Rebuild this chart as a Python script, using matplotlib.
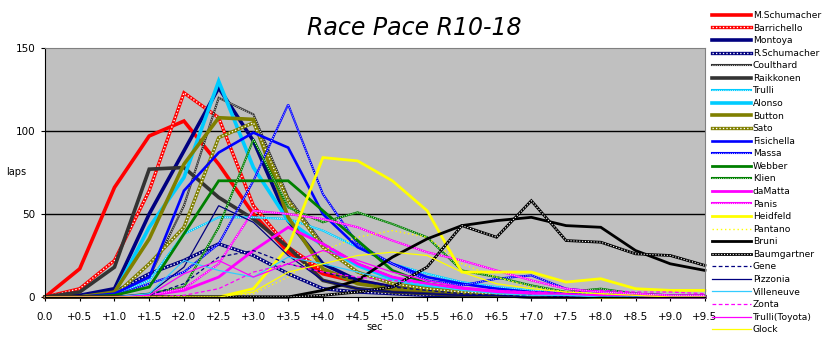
import numpy as np
import matplotlib.pyplot as plt

# lap-time deltas to the fastest lap, in 0.5 s bins
cats = ['0.0'] + ['+%.1f' % (0.5 * i) for i in range(1, 20)]

m_schumacher = [0, 17, 66, 97, 106, 80, 50, 27, 14, 9, 5, 3, 2, 1, 1, 0, 0, 0, 0, 0]
barrichello = [0, 5, 22, 64, 123, 108, 55, 30, 16, 10, 6, 4, 3, 2, 1, 1, 0, 0, 0, 0]
montoya = [0, 1, 5, 50, 88, 126, 94, 46, 20, 10, 6, 4, 3, 2, 1, 1, 0, 0, 0, 0]
r_schumacher = [0, 0, 3, 14, 22, 32, 25, 14, 5, 3, 2, 1, 1, 1, 0, 0, 0, 0, 0, 0]
coulthard = [0, 0, 2, 12, 55, 120, 110, 60, 32, 20, 12, 7, 4, 2, 1, 1, 0, 0, 0, 0]
raikkonen = [0, 3, 18, 77, 78, 60, 47, 30, 10, 5, 3, 2, 1, 1, 0, 0, 0, 0, 0, 0]
trulli = [0, 0, 1, 10, 38, 48, 48, 47, 40, 30, 20, 14, 9, 6, 4, 3, 2, 1, 1, 0]
alonso = [0, 0, 2, 42, 72, 130, 78, 46, 31, 19, 11, 6, 4, 2, 1, 1, 0, 0, 0, 0]
button = [0, 0, 3, 35, 80, 108, 107, 48, 17, 8, 5, 4, 3, 2, 1, 1, 0, 0, 0, 0]
sato = [0, 0, 1, 20, 42, 96, 105, 58, 30, 15, 8, 5, 3, 2, 1, 1, 0, 0, 0, 0]
fisichella = [0, 0, 2, 12, 64, 87, 99, 90, 50, 30, 20, 12, 8, 5, 3, 2, 1, 0, 0, 0]
massa = [0, 0, 1, 8, 15, 32, 70, 116, 62, 32, 20, 10, 7, 11, 13, 5, 3, 2, 1, 1]
webber = [0, 0, 1, 6, 38, 70, 70, 70, 52, 34, 16, 8, 5, 3, 2, 1, 1, 0, 0, 0]
klien = [0, 0, 0, 2, 6, 42, 95, 54, 45, 51, 44, 36, 16, 12, 7, 3, 5, 2, 1, 1]
damatta = [0, 0, 0, 1, 4, 12, 28, 42, 32, 20, 12, 8, 5, 3, 2, 1, 1, 0, 0, 0]
panis = [0, 0, 0, 1, 5, 20, 52, 50, 47, 42, 34, 27, 22, 16, 10, 5, 3, 2, 1, 1]
heidfeld = [0, 0, 0, 0, 0, 0, 5, 30, 84, 82, 70, 52, 15, 15, 15, 9, 11, 5, 4, 4]
pantano = [0, 0, 0, 0, 0, 0, 2, 12, 28, 36, 40, 36, 20, 12, 6, 3, 2, 1, 0, 0]
bruni = [0, 0, 0, 0, 0, 0, 0, 0, 4, 10, 24, 35, 43, 46, 48, 43, 42, 28, 20, 16]
baumgartner = [0, 0, 0, 0, 0, 0, 0, 0, 1, 3, 6, 18, 43, 36, 58, 34, 33, 26, 25, 19]
gene = [0, 0, 0, 1, 8, 24, 28, 20, 15, 10, 6, 4, 2, 1, 1, 0, 0, 0, 0, 0]
pizzonia = [0, 0, 0, 2, 18, 55, 45, 25, 10, 5, 3, 2, 1, 1, 0, 0, 0, 0, 0, 0]
villeneuve = [0, 0, 0, 2, 22, 16, 12, 24, 20, 15, 10, 7, 4, 2, 1, 1, 0, 0, 0, 0]
zonta = [0, 0, 0, 0, 1, 5, 15, 20, 15, 12, 10, 8, 5, 4, 3, 3, 4, 3, 3, 2]
trulli_toyota = [0, 0, 0, 1, 14, 22, 12, 20, 28, 22, 15, 10, 6, 4, 3, 2, 1, 1, 0, 0]
glock = [0, 0, 0, 0, 0, 0, 3, 15, 20, 25, 27, 25, 15, 8, 5, 3, 2, 1, 0, 0]

drivers = ['M.Schumacher', 'Barrichello', 'Montoya', 'R.Schumacher', 'Coulthard',
           'Raikkonen', 'Trulli', 'Alonso', 'Button', 'Sato', 'Fisichella', 'Massa',
           'Webber', 'Klien', 'daMatta', 'Panis', 'Heidfeld', 'Pantano', 'Bruni',
           'Baumgartner', 'Gene', 'Pizzonia', 'Villeneuve', 'Zonta', 'Trulli(Toyota)', 'Glock']
series = [m_schumacher, barrichello, montoya, r_schumacher, coulthard, raikkonen, trulli,
          alonso, button, sato, fisichella, massa, webber, klien, damatta, panis, heidfeld,
          pantano, bruni, baumgartner, gene, pizzonia, villeneuve, zonta, trulli_toyota, glock]

# (colour, line kind, width)
styles = [
    ('#FF0000', 'solid', 2.6), ('#FF0000', 'checker', 2.4), ('#000080', 'solid', 2.6),
    ('#000080', 'checker', 2.4), ('#333333', 'dotted', 1.5), ('#333333', 'solid', 2.6),
    ('#00CCFF', 'dotted', 1.5), ('#00CCFF', 'solid', 2.6), ('#808000', 'solid', 2.6),
    ('#808000', 'checker', 2.4), ('#0000FF', 'solid', 1.9), ('#0000FF', 'dotted', 1.5),
    ('#008000', 'solid', 2.0), ('#008000', 'dotted', 1.5), ('#FF00FF', 'solid', 2.0),
    ('#FF00FF', 'dotted', 1.5), ('#FFFF00', 'solid', 2.0), ('#FFFF00', 'sparse', 1.0),
    ('#000000', 'solid', 2.0), ('#000000', 'checker', 2.0), ('#000080', 'dashed', 0.9),
    ('#000080', 'solid', 0.9), ('#33CCFF', 'solid', 0.9), ('#FF00FF', 'dashed', 0.9),
    ('#FF00FF', 'solid', 0.9), ('#FFFF00', 'solid', 0.9),
]


def draw(ax, x, y, color, kind, lw):
    kw = dict(clip_on=False, solid_joinstyle='miter')
    if kind == 'solid':
        return ax.plot(x, y, color=color, lw=lw, **kw)[0]
    if kind == 'dashed':
        return ax.plot(x, y, color=color, lw=lw, ls=(0, (3, 2)), clip_on=False)[0]
    if kind == 'sparse':
        return ax.plot(x, y, color=color, lw=lw, ls=(0, (1, 2)), clip_on=False)[0]
    base = ax.plot(x, y, color=color, lw=lw, **kw)[0]
    top = ax.plot(x, y, color='white', lw=lw * 0.4, ls=(0, (1, 1.6)), clip_on=False)[0]
    return (base, top)


fig = plt.figure(figsize=(8.29, 3.42), dpi=100)
ax = fig.add_axes([45 / 829, 1 - 297 / 342, 660 / 829, 249 / 342])
ax.set_facecolor('#C0C0C0')

x = np.arange(len(cats))
for yv in (50, 100):
    ax.axhline(yv, color='black', lw=1.0, zorder=0.5)

handles = []
for vals, (c, kind, lw) in zip(series, styles):
    handles.append(draw(ax, x, vals, c, kind, lw))

ax.set_xlim(0, len(cats) - 1)
ax.set_ylim(0, 150)
ax.set_yticks([0, 50, 100, 150])
ax.set_xticks(x)
ax.set_xticklabels(cats)
ax.tick_params(labelsize=7.5, length=3, width=0.8, pad=4)
ax.tick_params(axis='x', pad=8)
for s in ('top', 'right'):
    ax.spines[s].set_color('#808080')
for s in ('left', 'bottom'):
    ax.spines[s].set_color('black')

fig.text(0.5, 0.918, 'Race Pace R10-18', style='italic', fontsize=17,
         ha='center', va='center')
fig.text(16 / 829, 1 - 172 / 342, 'laps', fontsize=7, ha='center', va='center')
fig.text(375 / 829, 1 - 327 / 342, 'sec', fontsize=7, ha='center', va='center')

fig.legend(handles, drivers, loc='upper left', bbox_to_anchor=(712 / 829, 1 - 11 / 342),
           frameon=False, fontsize=6.6, handlelength=4.3, handletextpad=0.15,
           labelspacing=0.39, borderaxespad=0, borderpad=0)

fig.savefig('out.png', dpi=100)
